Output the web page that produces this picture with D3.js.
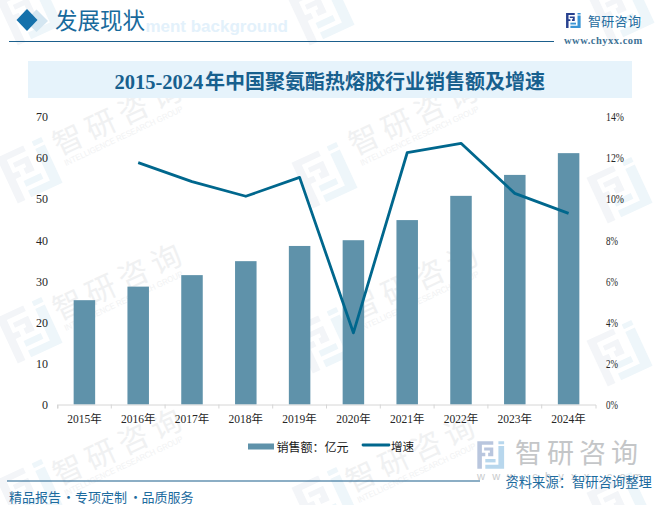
<!DOCTYPE html>
<html><head><meta charset="utf-8">
<script src="https://cdn.jsdelivr.net/npm/d3@7/dist/d3.min.js"></script>
<style>html,body{margin:0;padding:0;background:#fff}svg{display:block}</style></head>
<body><svg id="c" width="661" height="505"></svg>
<script>
const years=["2015年","2016年","2017年","2018年","2019年","2020年","2021年","2022年","2023年","2024年"];
const sales=[25.4,28.7,31.5,34.9,38.6,40.0,44.9,50.8,55.9,61.2];
const growth=[null,11.78,10.85,10.14,11.06,3.49,12.26,12.72,10.28,9.31];
const leftTicks=[0,10,20,30,40,50,60,70];
const rightTicks=[0,2,4,6,8,10,12,14];
const wmSpots=[[59,156],[355,156],[59,321],[355,321],[59,486],[352,493]];
const logoSpots=[[30,12],[322,12],[622,10],[30,170],[325,175],[620,190],[30,330],[325,340],[620,353],[30,492],[325,500],[620,505]];

const cjk='"Noto Sans CJK SC"';
const serif='"Liberation Serif",'+cjk;
const svg=d3.select("#c");

function logo(parent,cx,cy,s,angle,c1,c2){
  const g=parent.append("g").attr("transform",`translate(${cx},${cy}) rotate(${angle}) scale(${s}) translate(-24,-24)`);
  g.append("path").attr("fill",c1).attr("d","M0 0H28V6H8V20H14V26H8V48H0Z");
  g.append("path").attr("fill",c1).attr("d","M12 11H28V26H19V20H22V16H12Z");
  g.append("path").attr("fill",c2).attr("d","M37 0H47V5H37Z M37 8H47V48H14V41H37Z");
  g.append("path").attr("fill",c2).attr("d","M14 31H32V37H14Z");
}

// watermark layer
const wm=svg.append("g");
logoSpots.forEach(([x,y])=>logo(wm,x,y,1.05,-25,"#f3f5f8","#eef6fa"));
wmSpots.forEach(([x,y])=>{
  const g=wm.append("g").attr("transform",`translate(${x},${y}) rotate(-25)`);
  g.append("text").text("智研咨询").attr("font-family",cjk).attr("font-size",30).attr("letter-spacing",6).attr("fill","#f0f1f2");
  g.append("text").text("INTELLIGENCE RESEARCH GROUP").attr("x",2).attr("y",12).attr("font-family",'"Liberation Sans"').attr("font-size",8.5).attr("lengthAdjust","spacingAndGlyphs").attr("textLength",130).attr("fill","#f1f2f3");
});

const xo=d3.scaleBand().domain(years).range([57.5,595.5]);
const yL=d3.scaleLinear().domain([0,70]).range([404.5,117]);
const yR=d3.scaleLinear().domain([0,14]).range([404.5,117]);

// header
svg.append("path").attr("d","M36.5 9.5L48 21L36.5 32L25 21Z").attr("fill","#d4e6f1");
svg.append("path").attr("d","M27 9L37.5 20L27 31L16.5 20Z").attr("fill","#1571ab");
svg.append("text").text("ment background").attr("x",288).attr("y",31.5).attr("text-anchor","end").attr("font-family",'"Liberation Sans"').attr("font-weight",700).attr("font-size",17).attr("fill","#e3f1fb");
svg.append("text").text("发展现状").attr("x",55).attr("y",29).attr("font-family",cjk).attr("font-size",22.5).attr("fill","#186a9c");
svg.append("line").attr("x1",9).attr("x2",554).attr("y1",41.5).attr("y2",41.5).attr("stroke","#1b5f8c").attr("stroke-width",1.1);
svg.append("text").text("智研咨询").attr("x",588).attr("y",26).attr("font-family",cjk).attr("font-size",13).attr("letter-spacing",.3).attr("fill","#1d6b9e");
svg.append("text").text("www.chyxx.com").attr("x",564).attr("y",43.5).attr("font-family",'"Liberation Serif"').attr("font-weight",700).attr("font-size",10.5).attr("letter-spacing",.5).attr("fill","#3f7396");
logo(svg,573.5,20.5,.31,0,"#28418f","#3a95d5");

// title band
svg.append("rect").attr("x",28).attr("y",61).attr("width",604).attr("height",37).attr("fill","#e6f3fb");
const title=svg.append("text").attr("x",114.5).attr("y",89).attr("font-weight",700).attr("fill","#17608e");
title.append("tspan").text("2015-2024").attr("font-family",'"Liberation Serif"').attr("font-size",20.5);
title.append("tspan").text("年中国聚氨酯热熔胶行业销售额及增速").attr("x",205).attr("font-family",cjk).attr("font-size",20);

// bars
svg.append("g").selectAll("rect").data(years).join("rect")
  .attr("x",d=>xo(d)+xo.bandwidth()/2-10.75).attr("width",21.5)
  .attr("y",(d,i)=>yL(sales[i])).attr("height",(d,i)=>yL(0)-yL(sales[i])).attr("fill","#5f92aa");

// axes
const ax=svg.append("g").attr("transform","translate(0,404.5)").call(d3.axisBottom(xo).tickSize(4).tickPadding(6).tickSizeOuter(4));
ax.select(".domain").attr("stroke","#d6d6d6");
ax.selectAll(".tick line").attr("stroke","#d6d6d6").attr("x1",-xo.bandwidth()/2).attr("x2",-xo.bandwidth()/2);
ax.selectAll("text").attr("font-family",serif).attr("font-size",11.5).attr("fill","#262626");
const al=svg.append("g").attr("transform","translate(48,0)").call(d3.axisLeft(yL).tickValues(leftTicks).tickSize(0).tickPadding(0));
al.select(".domain").remove();
al.selectAll("text").attr("font-family",serif).attr("font-size",12).attr("fill","#262626");
const ar=svg.append("g").attr("transform","translate(606,0)").call(d3.axisRight(yR).tickValues(rightTicks).tickFormat(d=>d+"%").tickSize(0).tickPadding(0));
ar.select(".domain").remove();
ar.selectAll("text").attr("font-family",serif).attr("font-size",12).attr("fill","#262626")
  .attr("lengthAdjust","spacingAndGlyphs").attr("textLength",d=>(String(d).length+1)*6);

// line
const line=d3.line().defined(d=>d!=null).x((d,i)=>xo(years[i])+xo.bandwidth()/2).y(d=>yR(d));
svg.append("path").attr("d",line(growth)).attr("fill","none").attr("stroke","#00678d").attr("stroke-width",2.8).attr("stroke-linejoin","round");

// legend
svg.append("rect").attr("x",248).attr("y",443.5).attr("width",26).attr("height",6).attr("fill","#5f92aa");
svg.append("text").text("销售额：亿元").attr("x",276.5).attr("y",451.5).attr("font-family",cjk).attr("font-size",12).attr("fill","#1a1a1a");
svg.append("line").attr("x1",363).attr("x2",389).attr("y1",445).attr("y2",445).attr("stroke","#00678d").attr("stroke-width",2.8).attr("stroke-linecap","round");
svg.append("text").text("增速").attr("x",391).attr("y",450.5).attr("font-family",cjk).attr("font-size",11.5).attr("fill","#1a1a1a");

// bottom brand
svg.append("text").text("智研咨询").attr("x",515).attr("y",463).attr("font-family",cjk).attr("font-size",27).attr("letter-spacing",5).attr("fill","#c4c6c8");
logo(svg,491,455,.57,0,"#b9c6de","#b8d7ed");
svg.append("text").text("www.chyxx.com").attr("x",477).attr("y",480).attr("font-family",'"Liberation Sans"').attr("font-size",11).attr("textLength",165).attr("fill","#c9cbcd");
svg.append("line").attr("x1",7).attr("x2",480).attr("y1",481).attr("y2",481).attr("stroke","#1b5f8c").attr("stroke-width",1.1);
const ft=svg.append("text").attr("y",501.5).attr("font-family",cjk).attr("font-size",13).attr("fill","#1d6b9e");
ft.append("tspan").text("精品报告").attr("x",9);
ft.append("tspan").text("·").attr("x",62);
ft.append("tspan").text("专项定制").attr("x",75);
ft.append("tspan").text("·").attr("x",129);
ft.append("tspan").text("品质服务").attr("x",141.5);
svg.append("text").text("资料来源：智研咨询整理").attr("x",505.5).attr("y",487).attr("font-family",cjk).attr("font-size",13.3).attr("fill","#1d6b9e");
</script></body></html>
